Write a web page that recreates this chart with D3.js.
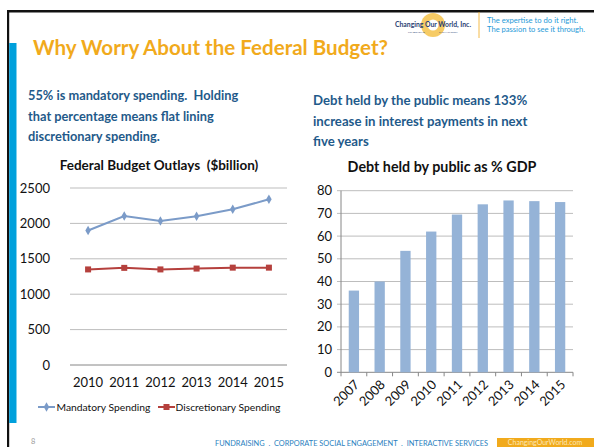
<!DOCTYPE html>
<html>
<head>
<meta charset="utf-8">
<script src="https://cdn.jsdelivr.net/npm/d3@7"></script>
<style>
  body { margin: 0; background: #fff; }
  svg { display: block; font-family: Lato, 'Open Sans', sans-serif; }
  text { white-space: pre; }
</style>
</head>
<body>
<svg id="slide" width="594" height="447"></svg>
<script>
// values
const outlayYears = ['2010', '2011', '2012', '2013', '2014', '2015'];
const mandatory = [1900, 2105, 2035, 2100, 2200, 2340];
const discretionary = [1350, 1372, 1350, 1362, 1375, 1375];
const outlayTicks = [0, 500, 1000, 1500, 2000, 2500];

const debtYears = ['2007', '2008', '2009', '2010', '2011', '2012', '2013', '2014', '2015'];
const debtPct = [36, 40, 53.5, 62, 69.5, 74, 75.7, 75.4, 75];
const debtTicks = [0, 10, 20, 30, 40, 50, 60, 70, 80];

const leftNote = ['55% is mandatory spending.  Holding', 'that percentage means flat lining', 'discretionary spending.'];
const rightNote = ['Debt held by the public means 133%', 'increase in interest payments in next', 'five years'];

const BLUE_LINE = '#7b9bc8';
const RED_LINE = '#b5403d';
const BAR = '#95b3d7';
const HEAD = '#1f5a8a';
const ORANGE = '#f1aa1c';

const svg = d3.select('#slide');

// slide frame
svg.append('rect').attr('x', 7).attr('y', 10).attr('width', 594).attr('height', 2.5).attr('fill', '#111');
svg.append('rect').attr('x', 7).attr('y', 10).attr('width', 2.2).attr('height', 447).attr('fill', '#111');
svg.append('rect').attr('x', 9.2).attr('y', 43).attr('width', 7.3).attr('height', 380).attr('fill', '#00a0dc');

// header
svg.append('text')
    .attr('x', 33).attr('y', 54.5)
    .attr('textLength', 355).attr('lengthAdjust', 'spacingAndGlyphs')
    .style('font-size', '20.5px').style('font-weight', '700')
    .style('fill', ORANGE)
    .text('Why Worry About the Federal Budget?');

// logo (rough)
const logo = svg.append('g');
logo.append('circle').attr('cx', 433).attr('cy', 25).attr('r', 12).attr('fill', '#f4c24a').attr('opacity', 0.85);
logo.append('circle').attr('cx', 433).attr('cy', 25).attr('r', 5.5).attr('fill', '#fff');
logo.append('text').attr('x', 433).attr('y', 26.5).attr('text-anchor', 'middle')
    .attr('textLength', 76).attr('lengthAdjust', 'spacingAndGlyphs')
    .style('font-size', '7px').style('font-weight', '700').style('fill', '#2b3f73')
    .text('Changing Our World, Inc.');
logo.append('text').attr('x', 433).attr('y', 32.5).attr('text-anchor', 'middle')
    .style('font-size', '2.5px').style('fill', '#2b3f73')
    .text('FUNDRAISING                      PHILANTHROPY');
svg.append('line').attr('x1', 479).attr('x2', 479).attr('y1', 12).attr('y2', 38)
    .attr('stroke', ORANGE).attr('stroke-width', 0.8);
[['The expertise to do it right.', 91], ['The passion to see it through.', 98]].forEach(([t, w], i) => {
    svg.append('text').attr('x', 487).attr('y', 22.5 + i * 9.5)
        .attr('textLength', w).attr('lengthAdjust', 'spacingAndGlyphs')
        .style('font-size', '7.3px').style('fill', '#1f9ad8').text(t);
});

// side notes
leftNote.forEach((t, i) => {
    svg.append('text').attr('x', 28).attr('y', 100 + i * 20.7)
        .style('font-size', '12.8px').style('font-weight', '700').style('fill', HEAD).text(t);
});
rightNote.forEach((t, i) => {
    svg.append('text').attr('x', 313).attr('y', 105 + i * 20.7)
        .style('font-size', '13.2px').style('font-weight', '700').style('fill', HEAD).text(t);
});

// ---- left: line chart
const L = { left: 70, right: 287, top: 188, bottom: 365 };
const xL = d3.scalePoint().domain(outlayYears).range([L.left, L.right]).padding(0.5);
const yL = d3.scaleLinear().domain([0, 2500]).range([L.bottom, L.top]);

const gl = svg.append('g');
gl.append('text').attr('x', 159).attr('y', 169.5).attr('text-anchor', 'middle')
    .style('font-size', '13.5px').style('font-weight', '700').style('fill', '#111')
    .text('Federal Budget Outlays  ($billion)');

gl.selectAll('.grid').data(outlayTicks).enter().append('line')
    .attr('x1', L.left).attr('x2', L.right)
    .attr('y1', d => yL(d)).attr('y2', d => yL(d))
    .attr('stroke', d => d === 0 ? '#868686' : '#bdbdbd').attr('stroke-width', 1);

gl.selectAll('.ylab').data(outlayTicks).enter().append('text')
    .attr('x', 50).attr('y', d => yL(d)).attr('dy', '0.35em')
    .attr('text-anchor', 'end')
    .style('font-size', '13px').style('fill', '#111')
    .text(d => d);

gl.selectAll('.xlab').data(outlayYears).enter().append('text')
    .attr('x', d => xL(d)).attr('y', 386.5).attr('text-anchor', 'middle')
    .style('font-size', '13px').style('fill', '#111')
    .text(d => d);

const line = d3.line().x((d, i) => xL(outlayYears[i])).y(d => yL(d));
gl.append('path').datum(mandatory).attr('d', line)
    .attr('fill', 'none').attr('stroke', BLUE_LINE).attr('stroke-width', 2);
gl.append('path').datum(discretionary).attr('d', line)
    .attr('fill', 'none').attr('stroke', RED_LINE).attr('stroke-width', 2);

const diamond = d3.symbol().type(d3.symbolDiamond).size(26);
gl.selectAll('.mk1').data(mandatory).enter().append('path')
    .attr('d', diamond)
    .attr('transform', (d, i) => `translate(${xL(outlayYears[i])},${yL(d)})`)
    .attr('fill', BLUE_LINE);
gl.selectAll('.mk2').data(discretionary).enter().append('rect')
    .attr('x', (d, i) => xL(outlayYears[i]) - 3).attr('y', d => yL(d) - 3)
    .attr('width', 6).attr('height', 6).attr('fill', RED_LINE);

// legend
const leg = gl.append('g').attr('transform', 'translate(0,407)');
leg.append('line').attr('x1', 38).attr('x2', 55).attr('stroke', BLUE_LINE).attr('stroke-width', 2);
leg.append('path').attr('d', diamond).attr('transform', 'translate(46.5,0)').attr('fill', BLUE_LINE);
leg.append('text').attr('x', 56.5).attr('dy', '0.35em').style('font-size', '10.3px').style('fill', '#111')
    .text('Mandatory Spending');
leg.append('line').attr('x1', 158).attr('x2', 175).attr('stroke', RED_LINE).attr('stroke-width', 2);
leg.append('rect').attr('x', 163.5).attr('y', -3).attr('width', 6).attr('height', 6).attr('fill', RED_LINE);
leg.append('text').attr('x', 175.5).attr('dy', '0.35em').style('font-size', '10.3px').style('fill', '#111')
    .text('Discretionary Spending');

// ---- right: bar chart
const R = { left: 341, right: 573, top: 190.7, bottom: 372.3 };
const xR = d3.scaleBand().domain(debtYears).range([R.left, R.right]).paddingInner(0.6).paddingOuter(0.3);
const yR = d3.scaleLinear().domain([0, 80]).range([R.bottom, R.top]);

const gr = svg.append('g');
gr.append('text').attr('x', 442).attr('y', 171.5).attr('text-anchor', 'middle')
    .style('font-size', '14.3px').style('font-weight', '700').style('fill', '#111')
    .text('Debt held by public as % GDP');

gr.selectAll('.grid').data(debtTicks).enter().append('line')
    .attr('x1', R.left - 4).attr('x2', R.right)
    .attr('y1', d => yR(d)).attr('y2', d => yR(d))
    .attr('stroke', d => d === 0 ? '#868686' : '#bdbdbd').attr('stroke-width', 1);
gr.append('line').attr('x1', R.left).attr('x2', R.left).attr('y1', R.top).attr('y2', R.bottom)
    .attr('stroke', '#868686');

const step = (R.right - R.left) / debtYears.length;
gr.selectAll('.xtick').data(d3.range(debtYears.length + 1)).enter().append('line')
    .attr('x1', i => R.left + i * step).attr('x2', i => R.left + i * step)
    .attr('y1', R.bottom).attr('y2', R.bottom + 4)
    .attr('stroke', '#868686');

gr.selectAll('.ylab').data(debtTicks).enter().append('text')
    .attr('x', 332).attr('y', d => yR(d)).attr('dy', '0.35em')
    .attr('text-anchor', 'end')
    .style('font-size', '13px').style('fill', '#111')
    .text(d => d);

gr.selectAll('.bar').data(debtPct).enter().append('rect')
    .attr('x', (d, i) => xR(debtYears[i]))
    .attr('width', xR.bandwidth())
    .attr('y', d => yR(d))
    .attr('height', d => R.bottom - yR(d))
    .attr('fill', BAR);

gr.selectAll('.xlab').data(debtYears).enter().append('text')
    .attr('transform', d => `translate(${xR(d) + xR.bandwidth() / 2 + 3},${R.bottom + 10}) rotate(-45)`)
    .attr('text-anchor', 'end').attr('dy', '0.35em')
    .style('font-size', '13px').style('fill', '#111')
    .text(d => d);

// footer
svg.append('text').attr('x', 31).attr('y', 444).style('font-size', '7.5px').style('fill', '#999').text('8');
svg.append('text').attr('x', 215).attr('y', 445.5)
    .attr('textLength', 273).attr('lengthAdjust', 'spacingAndGlyphs')
    .style('font-size', '7.3px').style('fill', '#2a7fc0')
    .text('FUNDRAISING  .  CORPORATE SOCIAL ENGAGEMENT  .  INTERACTIVE SERVICES');
svg.append('rect').attr('x', 497).attr('y', 438).attr('width', 97).attr('height', 9).attr('fill', ORANGE);
svg.append('text').attr('x', 545).attr('y', 445.3).attr('text-anchor', 'middle')
    .style('font-size', '7px').style('fill', '#fbe7b9')
    .text('ChangingOurWorld.com');
</script>
</body>
</html>
